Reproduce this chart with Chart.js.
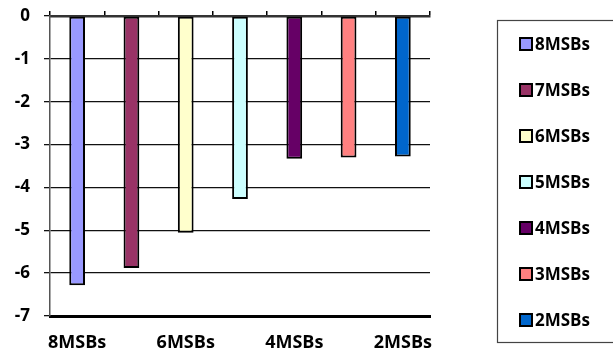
<!DOCTYPE html>
<html lang="en">
<head>
    <meta charset="UTF-8">
    <title>MSBs</title>
    <script src="https://cdn.jsdelivr.net/npm/chart.js"></script>
    <style>
        html, body { margin: 0; padding: 0; background: #fff; }
        #box { width: 613px; height: 353px; }
    </style>
</head>
<body>
    <div id="box"><canvas id="grafico"></canvas></div>

<script>
    // dados
    const categorias = ['8MSBs', '7MSBs', '6MSBs', '5MSBs', '4MSBs', '3MSBs', '2MSBs'];
    const valores = [-6.28, -5.88, -5.06, -4.27, -3.33, -3.30, -3.28];
    const cores = ['#9999FF', '#993366', '#FFFFCC', '#CCFFFF', '#660066', '#FF8080', '#0066CC'];
    const yTicks = [0, -1, -2, -3, -4, -5, -6, -7];

    const fonte = "'Open Sans', 'Liberation Sans', sans-serif";

    // legenda desenhada a mao, com caixa
    const legendaBox = {
        id: 'legendaBox',
        afterDraw(chart) {
            const ctx = chart.ctx;
            ctx.save();
            ctx.strokeStyle = '#444';
            ctx.lineWidth = 1.2;
            ctx.strokeRect(497.5, 20.5, 118, 322);
            ctx.font = 'bold 17px ' + fonte;
            ctx.textBaseline = 'middle';
            ctx.textAlign = 'left';
            chart.data.labels.forEach((lab, i) => {
                const y = 44 + i * 46;
                ctx.fillStyle = chart.data.datasets[0].backgroundColor[i];
                ctx.fillRect(520, y - 6, 12, 12);
                ctx.strokeStyle = '#000';
                ctx.lineWidth = 2;
                ctx.strokeRect(520, y - 6, 12, 12);
                ctx.fillStyle = '#000';
                ctx.fillText(lab, 535, y + 1);
            });
            ctx.restore();
        }
    };

    const config = {
        type: 'bar',
        data: {
            labels: categorias,
            datasets: [{
                label: 'MSBs',
                data: valores,
                backgroundColor: cores,
                borderColor: '#000',
                borderWidth: 2,
                borderSkipped: false,
                barPercentage: 0.29,
                categoryPercentage: 1
            }]
        },
        options: {
            responsive: true,
            maintainAspectRatio: false,
            animation: false,
            layout: { padding: { top: 11, right: 183, bottom: 0, left: 0 } },
            plugins: {
                legend: { display: false },
                tooltip: { enabled: false }
            },
            scales: {
                x: {
                    position: 'bottom',
                    grid: { display: false },
                    border: { color: '#000', width: 3 },
                    ticks: {
                        autoSkip: false,
                        maxRotation: 0,
                        padding: 8,
                        color: '#000',
                        font: { family: fonte, size: 18, weight: 'bold' },
                        callback: function (v, i) { return i % 2 === 0 ? categorias[i] : ''; }
                    },
                    afterFit: function (s) { s.height = 37; }
                },
                x2: {
                    type: 'category',
                    labels: categorias,
                    position: 'top',
                    offset: true,
                    grid: { drawOnChartArea: false, offset: true, tickLength: 5, color: '#000', lineWidth: 1.5 },
                    border: { color: '#333', width: 2.5 },
                    ticks: { display: false }
                },
                y: {
                    min: -7,
                    max: 0,
                    afterBuildTicks: function (s) { s.ticks = yTicks.map(v => ({ value: v })); },
                    grid: { color: '#111', lineWidth: 1.3, tickLength: 6 },
                    border: { color: '#555', width: 1.5 },
                    ticks: {
                        padding: 14,
                        color: '#000',
                        font: { family: fonte, size: 17, weight: 'bold' }
                    },
                    afterFit: function (s) { s.width = 50; s.paddingTop = 0; s.paddingBottom = 0; }
                }
            }
        },
        plugins: [legendaBox]
    };

    new Chart(document.getElementById('grafico'), config);
</script>
</body>
</html>
